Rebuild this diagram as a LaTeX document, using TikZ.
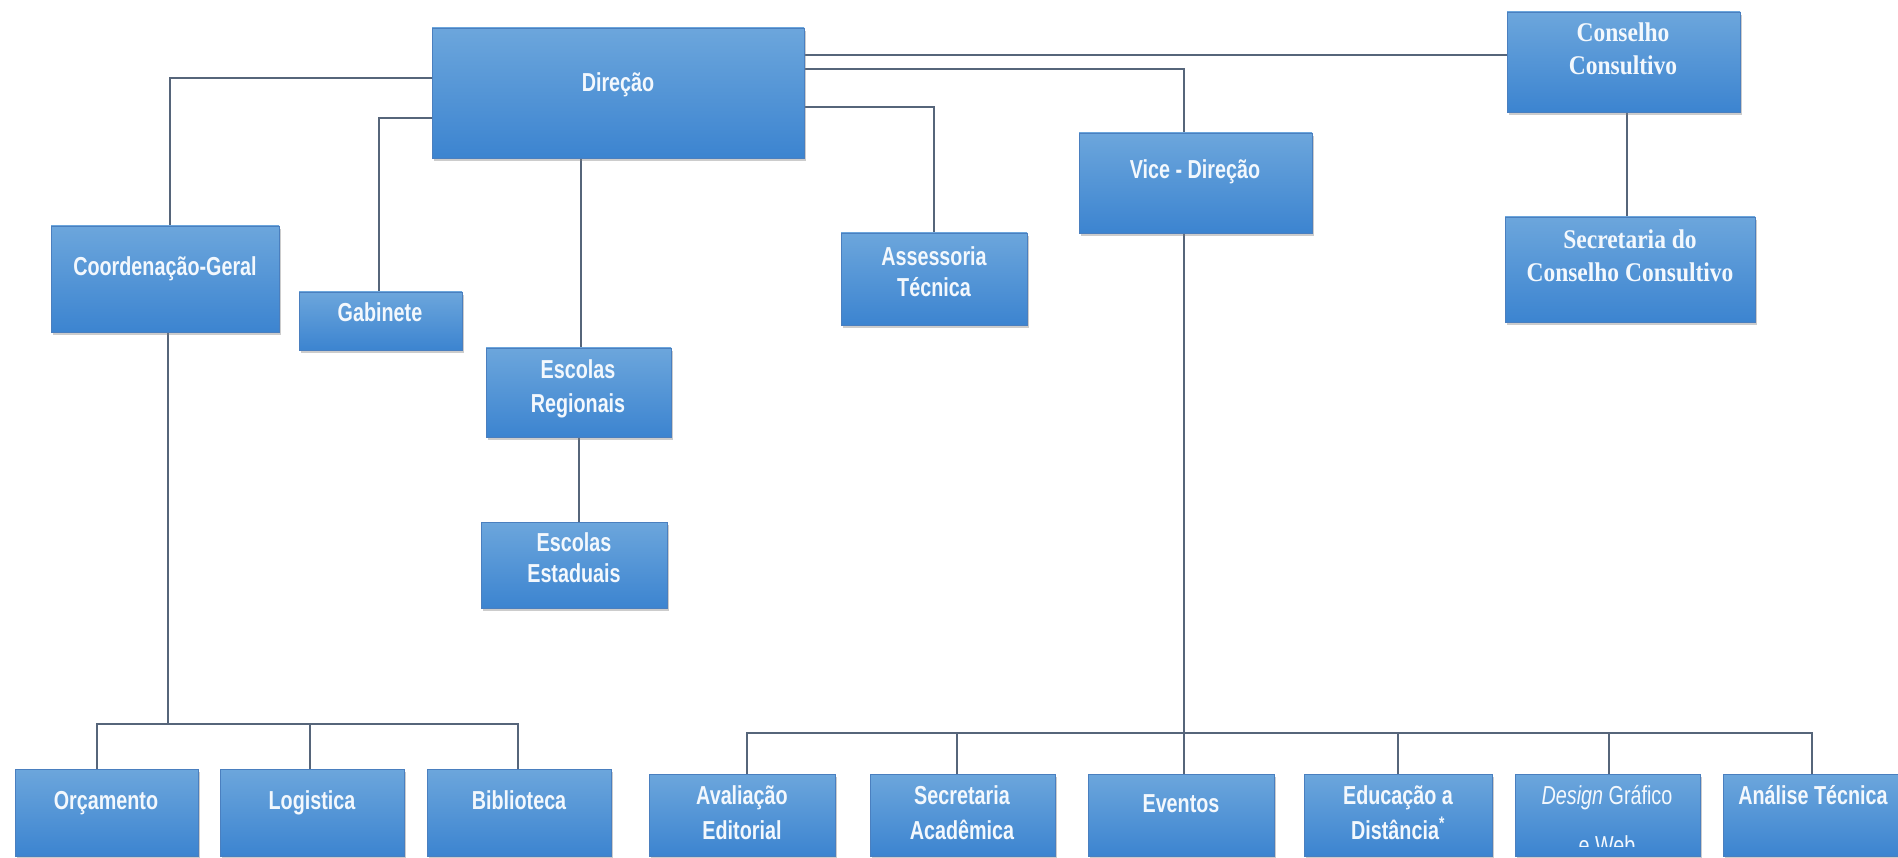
\documentclass[tikz,border=0pt]{standalone}
\usepackage{fontspec}
\newfontfamily\boxfont[FakeStretch=0.76]{Liberation Sans}
\newfontfamily\cfont[FakeStretch=0.87]{Liberation Serif}
\usetikzlibrary{shadows,backgrounds}

\definecolor{boxtop}{HTML}{6CA6DC}
\definecolor{boxbot}{HTML}{3C84D0}
\definecolor{boxedge}{HTML}{4A7FBF}
\definecolor{linkc}{HTML}{56657A}
\definecolor{txt}{HTML}{F3F8FD}

\tikzset{
  orgbox/.style={rectangle, inner sep=0pt, outer sep=0pt,
    top color=boxtop, bottom color=boxbot, draw=boxedge, line width=0.8pt,
    drop shadow={shadow xshift=1.5pt, shadow yshift=-3pt, opacity=0.4}},
  lbl/.style={anchor=base, text=txt, inner sep=0pt,
    font=\boxfont\bfseries\fontsize{26}{30}\selectfont},
  lblr/.style={lbl, font=\boxfont\fontsize{26}{30}\selectfont},
  slbl/.style={lbl, font=\cfont\bfseries\fontsize{27}{30}\selectfont},
  link/.style={draw=linkc, line width=1.6pt},
}

\begin{document}
\begin{tikzpicture}[x=1pt, y=-1pt]
\useasboundingbox (0,0) rectangle (1898,858);

% ---- boxes ----
\node[orgbox, minimum width=372pt, minimum height=130pt] (dir)    at (618,93) {};
\node[orgbox, minimum width=233pt, minimum height=100pt] (cons)   at (1623.5,62) {};
\node[orgbox, minimum width=233pt, minimum height=100pt] (vice)   at (1195.5,183) {};
\node[orgbox, minimum width=228pt, minimum height=106pt] (coord)  at (165,279) {};
\node[orgbox, minimum width=163pt, minimum height=58pt]  (gab)    at (380.5,321) {};
\node[orgbox, minimum width=186pt, minimum height=92pt]  (assess) at (934,279) {};
\node[orgbox, minimum width=185pt, minimum height=89pt]  (escreg) at (578.5,392.5) {};
\node[orgbox, minimum width=186pt, minimum height=86pt]  (esest)  at (574,565) {};
\node[orgbox, minimum width=250pt, minimum height=105pt] (secc)   at (1630,269.5) {};

\node[orgbox, minimum width=183pt, minimum height=87pt] (orc) at (106.5,812.5) {};
\node[orgbox, minimum width=184pt, minimum height=87pt] (log) at (312,812.5) {};
\node[orgbox, minimum width=184pt, minimum height=87pt] (bib) at (519,812.5) {};

\node[orgbox, minimum width=186pt, minimum height=82pt] (aval)   at (742,815) {};
\node[orgbox, minimum width=185pt, minimum height=82pt] (secac)  at (962.5,815) {};
\node[orgbox, minimum width=186pt, minimum height=82pt] (event)  at (1181,815) {};
\node[orgbox, minimum width=188pt, minimum height=82pt] (edu)    at (1398,815) {};
\node[orgbox, minimum width=185pt, minimum height=82pt] (design) at (1607.5,815) {};
\node[orgbox, minimum width=180pt, minimum height=82pt] (anal)   at (1813,815) {};

% ---- labels ----
\node[lbl] (t-dir) at (618,92) {Direção};
\node[slbl] (t-cons1) at (1623,42) {Conselho};
\node[slbl] (t-cons2) at (1623,75) {Consultivo};
\node[lbl] (t-vice) at (1195,179) {Vice - Direção};
\node[lbl] (t-coord) at (165,276) {Coordenação-Geral};
\node[lbl] (t-gab) at (380,322) {Gabinete};
\node[lbl] (t-ass1) at (934,266) {Assessoria};
\node[lbl] (t-ass2) at (934,297) {Técnica};
\node[lbl] (t-reg1) at (578,379) {Escolas};
\node[lbl] (t-reg2) at (578,412) {Regionais};
\node[lbl] (t-est1) at (574,551) {Escolas};
\node[lbl] (t-est2) at (574,582) {Estaduais};
\node[slbl] (t-sec1) at (1630,249) {Secretaria do};
\node[slbl] (t-sec2) at (1630,282) {Conselho Consultivo};

\node[lbl] (t-orc) at (106,809) {Orçamento};
\node[lbl] (t-log) at (312,809) {Logistica};
\node[lbl] (t-bib) at (519,809) {Biblioteca};

\node[lbl] (t-av1) at (742,804) {Avaliação};
\node[lbl] (t-av2) at (742,839) {Editorial};
\node[lbl] (t-sa1) at (962,804) {Secretaria};
\node[lbl] (t-sa2) at (962,839) {Acadêmica};
\node[lbl] (t-ev) at (1181,812) {Eventos};
\node[lbl] (t-ed1) at (1398,804) {Educação a};
\node[lbl] (t-ed2) at (1398,839) {Distância\textsuperscript{*}};
\node[lblr] (t-de1) at (1607,804) {\textit{Design} Gráfico};
\begin{scope}
  \clip (1515,774) rectangle (1700,846);
  \node[lblr] (t-de2) at (1607,854) {e Web};
\end{scope}
\node[lbl] (t-an) at (1813,804) {Análise Técnica};

% ---- connectors ----
\begin{scope}[on background layer]
  \coordinate (dA) at ([yshift=38pt]dir.east);
  \draw[link] (dA) -- (dA -| cons.west);
  \coordinate (dB) at ([yshift=24pt]dir.east);
  \draw[link] (dB) -| ([xshift=-11.5pt]vice.north);
  \coordinate (dC) at ([yshift=-14pt]dir.east);
  \draw[link] (dC) -| (assess.north);
  \coordinate (dD) at ([yshift=15pt]dir.west);
  \draw[link] (dD) -| ([xshift=5pt]coord.north);
  \coordinate (dE) at ([yshift=-25pt]dir.west);
  \draw[link] (dE) -| ([xshift=-1.5pt]gab.north);
  \coordinate (dF) at ([xshift=-37pt]dir.south);
  \draw[link] (dF) -- (dF |- escreg.north);
  \coordinate (rS) at ([xshift=0.5pt]escreg.south);
  \draw[link] (rS) -- (rS |- esest.north);
  \coordinate (cS) at ([xshift=3.5pt]cons.south);
  \draw[link] (cS) -- (cS |- secc.north);

  % left group
  \coordinate (gS) at ([xshift=3pt]coord.south);
  \coordinate (busL) at (168,724);
  \draw[link] (gS) -- (busL);
  \draw[link] (busL) -| ([xshift=-9.5pt]orc.north);
  \draw[link] (busL) -| ([xshift=-2pt]log.north);
  \draw[link] (busL) -| ([xshift=-1pt]bib.north);

  % right group
  \coordinate (vS) at ([xshift=-11.5pt]vice.south);
  \draw[link] (vS) -- (vS |- event.north);
  \coordinate (busR) at (1184,733);
  \draw[link] (busR) -| ([xshift=5pt]aval.north);
  \draw[link] (busR) -| ([xshift=-5.5pt]secac.north);
  \draw[link] (busR) -| (edu.north);
  \draw[link] (busR) -| ([xshift=1.5pt]design.north);
  \draw[link] (busR) -| ([xshift=-1pt]anal.north);
\end{scope}
\end{tikzpicture}
\end{document}
